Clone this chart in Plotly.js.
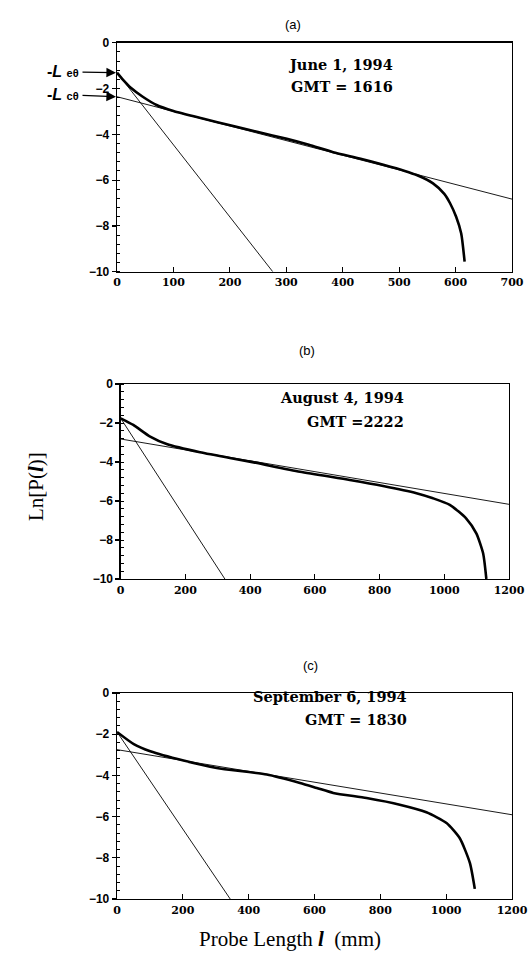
<!DOCTYPE html>
<html>
<head>
<meta charset="utf-8">
<script src="https://cdn.plot.ly/plotly-3.0.1.min.js"></script>
<style>html,body{margin:0;padding:0;background:#fff;}#chart{width:529px;height:973px;}</style>
</head>
<body>
<div id="chart"></div>
<script>
// Panel (a): June 1, 1994, GMT 1616
const aCurveX = [0, 10, 25, 45, 70, 100, 150, 206, 250, 301, 340, 383, 430, 472, 510, 531, 560, 580, 590, 601, 610, 616];
const aCurveY = [-1.31, -1.6, -1.98, -2.35, -2.72, -2.98, -3.3, -3.64, -3.9, -4.2, -4.46, -4.78, -5.06, -5.33, -5.6, -5.78, -6.14, -6.6, -7.0, -7.6, -8.33, -9.56];
const aSteepX = [0, 276];
const aSteepY = [-1.31, -10];
const aShallowX = [0, 700];
const aShallowY = [-2.36, -6.83];

// Panel (b): August 4, 1994, GMT 2222
const bCurveX = [0, 39, 91, 142, 245, 399, 554, 708, 811, 914, 965, 1017, 1068, 1099, 1120, 1130];
const bCurveY = [-1.76, -2.1, -2.7, -3.08, -3.5, -3.98, -4.5, -4.92, -5.23, -5.6, -5.86, -6.2, -6.9, -7.66, -8.68, -10];
const bSteepX = [0, 322];
const bSteepY = [-1.76, -10];
const bShallowX = [0, 1200];
const bShallowY = [-2.82, -6.17];

// Panel (c): September 6, 1994, GMT 1830
const cCurveX = [0, 51, 101, 202, 303, 455, 556, 607, 657, 758, 859, 940, 1001, 1041, 1072, 1087];
const cCurveY = [-1.89, -2.48, -2.83, -3.28, -3.64, -3.96, -4.37, -4.61, -4.85, -5.1, -5.42, -5.79, -6.31, -7.04, -8.25, -9.51];
const cSteepX = [0, 344];
const cSteepY = [-1.89, -10];
const cShallowX = [0, 1200];
const cShallowY = [-2.75, -5.91];

const panelTitles = ['(a)', '(b)', '(c)'];
const dateLabels = ['June 1, 1994', 'August 4, 1994', 'September 6, 1994'];
const gmtLabels = ['GMT = 1616', 'GMT =2222', 'GMT = 1830'];
const lengthLabels = ['-<i>L</i> <span style="font-size:11px">e\u03b8</span>', '-<i>L</i> <span style="font-size:11px">c\u03b8</span>'];

const thick = {color: '#000', width: 2.6, shape: 'spline', smoothing: 0.6};
const thin = {color: '#000', width: 0.9};

function tr(x, y, xa, ya, line) {
  return {x: x, y: y, xaxis: xa, yaxis: ya, mode: 'lines', line: line, hoverinfo: 'skip', showlegend: false};
}
const data = [
  tr(aSteepX, aSteepY, 'x', 'y', thin), tr(aShallowX, aShallowY, 'x', 'y', thin), tr(aCurveX, aCurveY, 'x', 'y', thick),
  tr(bSteepX, bSteepY, 'x2', 'y2', thin), tr(bShallowX, bShallowY, 'x2', 'y2', thin), tr(bCurveX, bCurveY, 'x2', 'y2', thick),
  tr(cSteepX, cSteepY, 'x3', 'y3', thin), tr(cShallowX, cShallowY, 'x3', 'y3', thin), tr(cCurveX, cCurveY, 'x3', 'y3', thick)
];

const W = 529, H = 973;
function xd(l, r) { return [l / W, r / W]; }
function yd(top, bot) { return [1 - bot / H, 1 - top / H]; }

function xax(dom, range, dtick, anchor) {
  return {
    domain: dom, range: range, dtick: dtick, tick0: 0, anchor: anchor,
    showgrid: false, zeroline: false, showline: true, linecolor: '#000', linewidth: 1.3, mirror: true,
    ticks: 'inside', ticklen: 5, tickwidth: 1.2, tickcolor: '#000',
    tickfont: {family: 'DejaVu Serif, serif', size: 11, color: '#000', weight: 'bold'},
    fixedrange: true
  };
}
function yax(dom, anchor) {
  return {
    domain: dom, range: [-10, 0], dtick: 2, tick0: 0, anchor: anchor,
    showgrid: false, zeroline: false, showline: true, linecolor: '#000', linewidth: 1.3, mirror: true,
    ticks: 'outside', ticklen: 4, tickwidth: 1.2, tickcolor: '#000',
    minor: {dtick: 0.4, ticks: 'inside', ticklen: 3, tickcolor: '#000', tickwidth: 1},
    tickfont: {family: 'Liberation Sans, Arial, sans-serif', size: 12, color: '#000', weight: 'bold'},
    fixedrange: true
  };
}

const annFont = {family: 'DejaVu Serif, serif', size: 14.5, color: '#000', weight: 'bold'};
const titleFont = {family: 'Liberation Sans, Arial, sans-serif', size: 13, color: '#000'};
const lFont = {family: 'Liberation Sans, Arial, sans-serif', size: 16, color: '#000', weight: 'bold'};
const arrowStyle = {showarrow: true, arrowhead: 2, arrowsize: 1.6, arrowwidth: 1.2, arrowcolor: '#000', standoff: 1};

const annotations = [
  {xref: 'paper', yref: 'paper', x: 293 / W, y: 1 - 15 / H, text: panelTitles[0], showarrow: false, font: titleFont},
  {xref: 'paper', yref: 'paper', x: 307 / W, y: 1 - 350 / H, text: panelTitles[1], showarrow: false, font: titleFont},
  {xref: 'paper', yref: 'paper', x: 310 / W, y: 1 - 675 / H, text: panelTitles[2], showarrow: false, font: titleFont},

  {xref: 'paper', yref: 'paper', x: 395 / W, y: 1 - 54 / H, text: dateLabels[0], showarrow: false, font: annFont},
  {xref: 'paper', yref: 'paper', x: 395 / W, y: 1 - 76 / H, text: gmtLabels[0], showarrow: false, font: annFont},
  {xref: 'paper', yref: 'paper', x: 406 / W, y: 1 - 397 / H, text: dateLabels[1], showarrow: false, font: annFont},
  {xref: 'paper', yref: 'paper', x: 406 / W, y: 1 - 421 / H, text: gmtLabels[1], showarrow: false, font: annFont},
  {xref: 'paper', yref: 'paper', x: 409 / W, y: 1 - 707 / H, text: dateLabels[2], showarrow: false, font: annFont},
  {xref: 'paper', yref: 'paper', x: 409 / W, y: 1 - 730 / H, text: gmtLabels[2], showarrow: false, font: annFont},

  // -L e0 and -L c0 markers in panel (a)
  Object.assign({xref: 'x', yref: 'y', x: 0, y: aCurveY[0], ax: -54, ay: -1, text: lengthLabels[0], font: lFont, borderpad: 3}, arrowStyle),
  Object.assign({xref: 'x', yref: 'y', x: 0, y: aShallowY[0], ax: -54, ay: -2, text: lengthLabels[1], font: lFont, borderpad: 3}, arrowStyle),

  // Axis titles
  {xref: 'paper', yref: 'paper', x: 22 / W, y: 1 - 487 / H, textangle: -90, text: 'Ln[P(<b><i>l</i></b>)]',
   showarrow: false, font: {family: 'Liberation Serif, serif', size: 21, color: '#000'}},
  {xref: 'paper', yref: 'paper', x: 290 / W, y: 1 - 953 / H, text: 'Probe Length <b><i>l</i></b>  (mm)',
   showarrow: false, font: {family: 'Liberation Serif, serif', size: 21, color: '#000'}}
];

const layout = {
  width: W, height: H,
  margin: {l: 0, r: 0, t: 0, b: 0},
  paper_bgcolor: '#fff', plot_bgcolor: '#fff',
  showlegend: false,
  xaxis: xax(xd(117, 512), [0, 700], 100, 'y'),
  yaxis: yax(yd(42.7, 271.7), 'x'),
  xaxis2: xax(xd(120.7, 509), [0, 1200], 200, 'y2'),
  yaxis2: yax(yd(384, 579), 'x2'),
  xaxis3: xax(xd(117, 512), [0, 1200], 200, 'y3'),
  yaxis3: yax(yd(693, 899), 'x3'),
  annotations: annotations
};

Plotly.newPlot('chart', data, layout, {staticPlot: true, displayModeBar: false});
</script>
</body>
</html>
